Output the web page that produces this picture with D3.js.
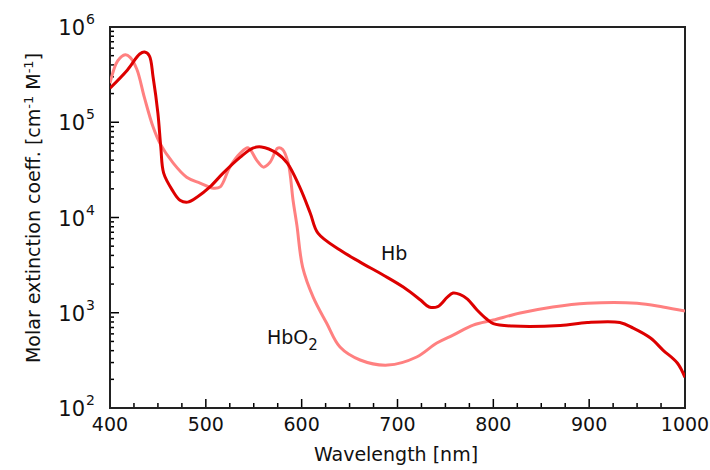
<!DOCTYPE html>
<html>
<head>
    <title>Hemoglobin absorption</title>
    <script src="https://d3js.org/d3.v7.min.js"></script>
    <style>
        body { margin: 0; background: #fff; }
        text { font-family: 'DejaVu Sans', sans-serif; fill: #111; }
    </style>
</head>
<body>
<div id="chart"></div>
<script>
    // wavelengths (nm) and molar extinction coefficients
    const hbWave = [400, 418, 431, 436, 441, 445, 450, 453, 456, 465, 473, 481, 491, 504, 518, 536, 549, 558, 574, 585, 598, 609, 617, 640, 661, 685, 706, 724, 733, 742, 752, 758, 765, 773, 783, 793, 800, 820, 870, 898, 932, 946, 964, 977, 992, 1000];
    const hbValue = [228000, 352000, 520000, 545000, 500000, 297000, 124000, 54800, 29200, 19400, 15200, 14500, 16400, 20800, 29200, 43000, 53500, 55000, 47400, 37200, 20800, 11100, 6850, 4550, 3400, 2490, 1860, 1360, 1150, 1160, 1460, 1610, 1560, 1390, 1070, 859, 770, 725, 735, 790, 790, 690, 543, 406, 297, 210];

    const hbo2Wave = [400, 408, 416, 421, 428, 436, 445, 452, 466, 480, 494, 508, 515, 525, 536, 544, 553, 560, 567, 575, 580, 586, 591, 595, 601, 612, 626, 640, 661, 690, 720, 741, 758, 779, 800, 828, 862, 898, 950, 977, 1000];
    const hbo2Value = [257000, 440000, 510000, 480000, 360000, 180000, 88900, 60400, 37200, 26500, 23000, 20300, 21000, 33800, 47400, 54000, 40000, 33800, 38000, 53500, 52000, 37200, 15200, 8320, 3020, 1460, 780, 436, 319, 282, 343, 481, 583, 743, 838, 993, 1150, 1260, 1260, 1150, 1040];

    const xMajor = [400, 500, 600, 700, 800, 900, 1000];
    const xLabels = ['400', '500', '600', '700', '800', '900', '1000'];
    const yMajor = [1e2, 1e3, 1e4, 1e5, 1e6];
    const yExp = ['2', '3', '4', '5', '6'];

    const width = 710, height = 470;
    const plotLeft = 110, plotRight = 685, plotTop = 27, plotBottom = 408;

    const svg = d3.select('#chart').append('svg')
        .attr('width', width)
        .attr('height', height);

    const x = d3.scaleLinear().domain([400, 1000]).range([plotLeft, plotRight]);
    const y = d3.scaleLog().domain([1e2, 1e6]).range([plotBottom, plotTop]);

    // tick positions: every 25 nm on x, 1..9 per decade on y
    const xTicks = d3.range(400, 1001, 25);
    const yTicks = [];
    for (let e = 2; e <= 6; e++) {
        for (let m = 1; m <= 9; m++) {
            const v = m * Math.pow(10, e);
            if (v <= 1e6) yTicks.push(v);
        }
    }

    const ticks = svg.append('g')
        .attr('stroke', '#000')
        .attr('stroke-width', 1.5);

    ticks.selectAll('line.xt')
        .data(xTicks)
        .join('line')
        .attr('class', 'xt')
        .attr('x1', d => x(d)).attr('x2', d => x(d))
        .attr('y1', plotBottom)
        .attr('y2', d => plotBottom - (d % 100 === 0 ? 9 : 5));

    ticks.selectAll('line.yt')
        .data(yTicks)
        .join('line')
        .attr('class', 'yt')
        .attr('y1', d => y(d)).attr('y2', d => y(d))
        .attr('x1', plotLeft)
        .attr('x2', d => plotLeft + (yMajor.includes(d) ? 9 : 4));

    // frame
    svg.append('rect')
        .attr('x', plotLeft).attr('y', plotTop)
        .attr('width', plotRight - plotLeft).attr('height', plotBottom - plotTop)
        .attr('fill', 'none').attr('stroke', '#222').attr('stroke-width', 2);

    // x tick labels
    svg.append('g').selectAll('text')
        .data(xMajor)
        .join('text')
        .attr('x', d => x(d))
        .attr('y', plotBottom + 23)
        .attr('text-anchor', 'middle')
        .style('font-size', '19px')
        .text((d, i) => xLabels[i]);

    // y tick labels: 10 with superscript exponent
    svg.append('g').selectAll('text')
        .data(yMajor)
        .join('text')
        .attr('x', 85)
        .attr('y', d => y(d) + 8)
        .attr('text-anchor', 'end')
        .style('font-size', '21px')
        .text('10');
    svg.append('g').selectAll('text')
        .data(yMajor)
        .join('text')
        .attr('x', 86)
        .attr('y', d => y(d) - 3)
        .style('font-size', '14px')
        .text((d, i) => yExp[i]);

    // axis titles
    svg.append('text')
        .attr('x', 396)
        .attr('y', 461)
        .attr('text-anchor', 'middle')
        .style('font-size', '19px')
        .text('Wavelength [nm]');

    const yt = svg.append('text')
        .attr('transform', 'translate(40,208) rotate(-90)')
        .attr('text-anchor', 'middle')
        .style('font-size', '19px');
    yt.append('tspan').text('Molar extinction coeff. [cm');
    yt.append('tspan').attr('dy', -7).style('font-size', '13px').text('-1');
    yt.append('tspan').attr('dy', 7).text(' M');
    yt.append('tspan').attr('dy', -7).style('font-size', '13px').text('-1');
    yt.append('tspan').attr('dy', 7).text(']');

    // curves
    svg.append('clipPath').attr('id', 'plot')
        .append('rect')
        .attr('x', plotLeft).attr('y', plotTop)
        .attr('width', plotRight - plotLeft).attr('height', plotBottom - plotTop);

    const line = d3.line()
        .x(d => x(d[0]))
        .y(d => y(d[1]))
        .curve(d3.curveCatmullRom.alpha(0.5));

    svg.append('path')
        .datum(d3.zip(hbo2Wave, hbo2Value))
        .attr('clip-path', 'url(#plot)')
        .attr('fill', 'none')
        .attr('stroke', '#ff8080')
        .attr('stroke-width', 3)
        .attr('stroke-linejoin', 'round')
        .attr('d', line);

    svg.append('path')
        .datum(d3.zip(hbWave, hbValue))
        .attr('clip-path', 'url(#plot)')
        .attr('fill', 'none')
        .attr('stroke', '#dd0000')
        .attr('stroke-width', 3)
        .attr('stroke-linejoin', 'round')
        .attr('d', line);

    // curve labels
    svg.append('text')
        .attr('x', 381).attr('y', 260)
        .style('font-size', '19px')
        .text('Hb');

    const ho = svg.append('text')
        .attr('x', 267).attr('y', 344)
        .style('font-size', '19px');
    ho.append('tspan').text('HbO');
    ho.append('tspan').attr('dy', 6).style('font-size', '15px').text('2');
</script>
</body>
</html>
